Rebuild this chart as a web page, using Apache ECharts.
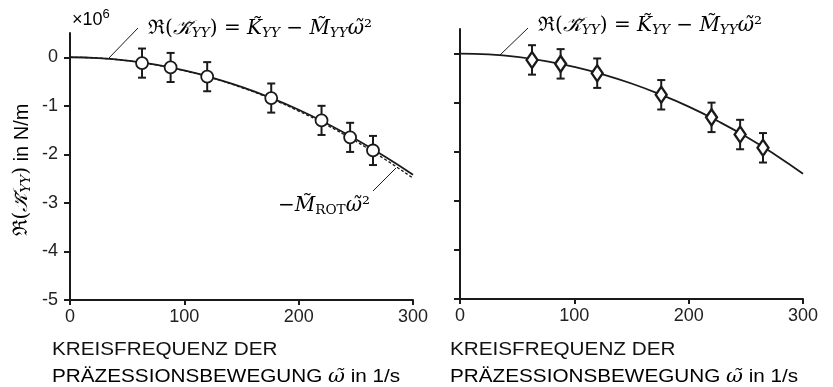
<!DOCTYPE html>
<html><head><meta charset="utf-8">
<script src="https://cdn.jsdelivr.net/npm/echarts@6/dist/echarts.min.js"></script>
<style>html,body{margin:0;padding:0;background:#fff}#c{width:833px;height:387px}</style>
</head><body><div id="c"></div>
<script>
// ---- data (values in 10^6 N/m) ----
var curveOmega = [0, 25, 50, 75, 100, 125, 150, 175, 200, 225, 250, 275, 300];
var leftModel  = [0, -0.017, -0.068, -0.153, -0.272, -0.425, -0.61, -0.83, -1.08, -1.37, -1.69, -2.04, -2.42];
var leftRot    = [0, -0.017, -0.07, -0.156, -0.277, -0.433, -0.623, -0.848, -1.108, -1.402, -1.731, -2.094, -2.49];
var rightModel = [0, -0.017, -0.068, -0.153, -0.272, -0.425, -0.61, -0.83, -1.08, -1.37, -1.69, -2.05, -2.45];
var measOmega  = [63, 88, 120, 176, 220, 245, 265];
var leftMeas   = [-0.12, -0.21, -0.40, -0.84, -1.30, -1.65, -1.92];
var rightMeas  = [-0.13, -0.21, -0.40, -0.84, -1.30, -1.65, -1.92];
var errHalf    = [0.3, 0.3, 0.3, 0.3, 0.3, 0.3, 0.3];
var xTicks = [0, 100, 200, 300];
var yTicks = [-5, -4, -3, -2, -1, 0];

function pairs(xs, ys){ return xs.map(function(x,i){ return [x, ys[i]]; }); }
function errData(xs, ys, e){ return xs.map(function(x,i){ return [x, ys[i]-e[i], ys[i]+e[i]]; }); }

var INK = '#1a1a1a';
var SANS = 'Liberation Sans, Arial, sans-serif';
function errSeries(idx, data){
  return {
    type:'custom', xAxisIndex:idx, yAxisIndex:idx, z:3, data:data,
    renderItem:function(params, api){
      var x = api.value(0), lo = api.value(1), hi = api.value(2);
      var p1 = api.coord([x, lo]), p2 = api.coord([x, hi]);
      var cw = 4;
      var st = {stroke:INK, lineWidth:2, fill:null};
      return {type:'group', children:[
        {type:'line', shape:{x1:p1[0], y1:p1[1], x2:p2[0], y2:p2[1]}, style:st},
        {type:'line', shape:{x1:p1[0]-cw, y1:p1[1], x2:p1[0]+cw, y2:p1[1]}, style:st},
        {type:'line', shape:{x1:p2[0]-cw, y1:p2[1], x2:p2[0]+cw, y2:p2[1]}, style:st}
      ]};
    }
  };
}

var tickFont = {color:'#222', fontFamily:SANS, fontSize:18};
function mkX(idx){
  return {type:'value', gridIndex:idx, min:0, max:300, interval:100,
    axisLine:{show:true, onZero:false, lineStyle:{color:INK, width:2}},
    axisTick:{show:true, length:5, lineStyle:{color:INK, width:2}, customValues:xTicks},
    axisLabel:Object.assign({show:true, margin:8, customValues:xTicks}, tickFont),
    splitLine:{show:false}};
}
function mkY(idx, labels){
  return {type:'value', gridIndex:idx, min:-5, max:0.5,
    axisLine:{show:true, onZero:false, lineStyle:{color:INK, width:2}},
    axisTick:{show:true, length:6, lineStyle:{color:INK, width:2}, customValues:yTicks},
    axisLabel:Object.assign({show:labels, margin:12, customValues:yTicks}, tickFont),
    splitLine:{show:false}};
}

var mathFont = 'DejaVu Serif, Liberation Serif, serif';
function mathRich(fs){
  return {
    m:{fontFamily:mathFont, fontStyle:'italic', fontSize:fs, color:'#111', lineHeight:fs+8},
    r:{fontFamily:mathFont, fontSize:fs, color:'#111', lineHeight:fs+8},
    s:{fontFamily:mathFont, fontStyle:'italic', fontSize:fs*0.68, color:'#111', lineHeight:fs+2, padding:[fs*0.45,0,0,0]},
    sr:{fontFamily:mathFont, fontSize:fs*0.68, color:'#111', lineHeight:fs+2, padding:[fs*0.45,0,0,0]},
    t:{fontFamily:SANS, fontSize:fs, color:'#111', lineHeight:fs+8}
  };
}
var modelLabel = '{r|ℜ(}{m|𝒦̃}{s|YY}{r|) = }{m|K̃}{s|YY}{r| − }{m|M̃}{s|YY}{m|ω̃}{r|²}';
var rotLabel = '{r|−}{m|M̃}{sr|ROT}{m|ω̃}{r|²}';
var xNameLine1 = 'KREISFREQUENZ DER';
var xNameLine2 = '{t|PRÄZESSIONSBEWEGUNG }{m|ω̃}{t| in 1/s}';

function xName(x){
  return [
    {type:'text', x:x, y:350, scaleX:1.15, style:{text:xNameLine1, fontFamily:SANS, fontSize:18, fill:'#111', verticalAlign:'middle'}},
    {type:'text', x:x, y:377, scaleX:1.15, style:{text:xNameLine2, verticalAlign:'middle', rich:mathRich(18)}}
  ];
}

var option = {
  backgroundColor:'#fff',
  animation:false,
  grid:[
    {left:70, top:33, width:343, height:267},
    {left:460, top:29, width:343, height:270}
  ],
  xAxis:[mkX(0), mkX(1)],
  yAxis:[mkY(0, true), mkY(1, false)],
  series:[
    {type:'line', xAxisIndex:0, yAxisIndex:0, data:pairs(curveOmega, leftRot), smooth:true, showSymbol:false,
      lineStyle:{color:INK, width:1.3, type:[3,2]}, z:2},
    {type:'line', xAxisIndex:0, yAxisIndex:0, data:pairs(curveOmega, leftModel), smooth:true, showSymbol:false,
      lineStyle:{color:INK, width:1.8}, z:2},
    errSeries(0, errData(measOmega, leftMeas, errHalf)),
    {type:'scatter', xAxisIndex:0, yAxisIndex:0, data:pairs(measOmega, leftMeas), symbol:'circle', symbolSize:12,
      itemStyle:{color:'#fff', opacity:1, borderColor:INK, borderWidth:1.8}, z:5},
    {type:'line', xAxisIndex:1, yAxisIndex:1, data:pairs(curveOmega, rightModel), smooth:true, showSymbol:false,
      lineStyle:{color:INK, width:1.8}, z:2},
    errSeries(1, errData(measOmega, rightMeas, errHalf)),
    {type:'scatter', xAxisIndex:1, yAxisIndex:1, data:pairs(measOmega, rightMeas), symbol:'diamond', symbolSize:[11,16],
      itemStyle:{color:'#fff', opacity:1, borderColor:INK, borderWidth:2.4}, z:5}
  ],
  graphic:[
    {type:'text', x:72, y:20, style:{text:'{b|×10}{sup|6}', verticalAlign:'middle',
      rich:{b:{fontSize:18, fontFamily:SANS, color:'#333'}, sup:{fontSize:13, fontFamily:SANS, color:'#333', padding:[0,0,12,0]}}}},
    {type:'line', shape:{x1:108, y1:59, x2:138, y2:28}, style:{stroke:INK, lineWidth:1}},
    {type:'text', x:148, y:29, style:{text:modelLabel, verticalAlign:'middle', rich:mathRich(20)}},
    {type:'line', shape:{x1:373, y1:191, x2:396, y2:168}, style:{stroke:INK, lineWidth:1}},
    {type:'text', x:278, y:206, style:{text:rotLabel, verticalAlign:'middle', rich:mathRich(20)}},
    {type:'line', shape:{x1:500, y1:55, x2:528, y2:28}, style:{stroke:INK, lineWidth:1}},
    {type:'text', x:538, y:26, style:{text:modelLabel, verticalAlign:'middle', rich:mathRich(20)}},
    {type:'text', x:22, y:170, rotation:Math.PI/2, style:{
      text:'{r|ℜ(}{m|𝒦̃}{s|YY}{r|)}{t| in N/m}', align:'center', verticalAlign:'middle',
      rich:mathRich(20)}}
  ].concat(xName(52), xName(450))
};
echarts.init(document.getElementById('c')).setOption(option);
</script></body></html>
